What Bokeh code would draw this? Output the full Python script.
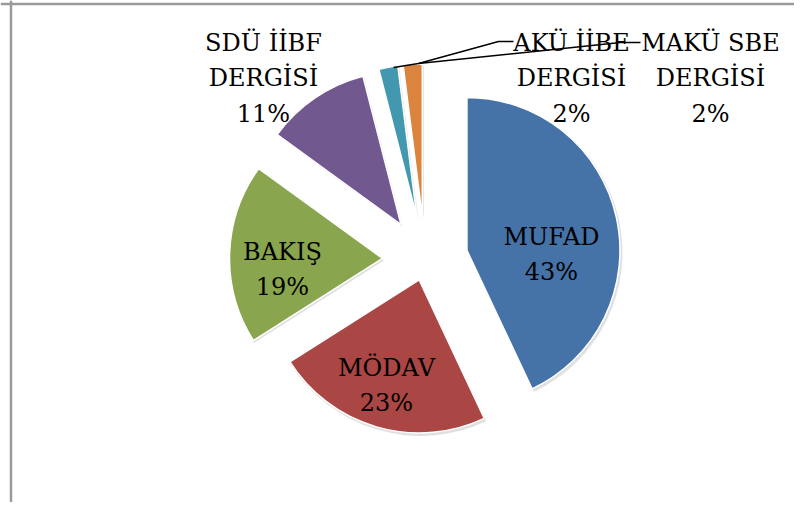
import math
from bokeh.plotting import figure
from bokeh.models import ColumnDataSource, Range1d, Span
from bokeh.core.properties import value
from bokeh.embed import file_html
from bokeh.resources import INLINE

# ---- data ----
categories = ["MUFAD", "MÖDAV", "BAKIŞ", "SDÜ İİBF DERGİSİ", "AKÜ İİBE DERGİSİ", "MAKÜ SBE DERGİSİ"]
percent = [43, 23, 19, 11, 2, 2]
label_line1 = ["MUFAD", "MÖDAV", "BAKIŞ", "SDÜ İİBF", "AKÜ İİBE", "MAKÜ SBE"]
label_line2 = ["", "", "", "DERGİSİ", "DERGİSİ", "DERGİSİ"]

# ---- style / layout ----
colors = ["#4572A7", "#AA4643", "#89A54E", "#71588F", "#4198AF", "#DB843D"]
explode = [43, 21, 42.5, 42.7, 43, 43]          # px offsets of each slice
W, H = 794, 502
center_page = (424.5, 259.3)
radius = 153
# label anchors (pixel coords: center x, first-line baseline y)
label_pos = [(551, 236), (386, 367), (282, 251), (263, 42), (571, 42), (710, 42)]
line_gap = 35.5
leaders = [
    [(393, 67), (418, 63), (498, 41), (513, 41)],
    [(418, 63), (620, 42), (640, 42)],
]

def py(y):
    return H - y

p = figure(width=W, height=H, output_backend="svg", toolbar_location=None,
           x_range=Range1d(0, W), y_range=Range1d(0, H),
           min_border=0, min_border_left=0, min_border_right=0,
           min_border_top=0, min_border_bottom=0)
p.axis.visible = False
p.grid.visible = False
p.outline_line_color = None
p.background_fill_color = "white"

total = float(sum(percent))
cx, cy = center_page[0], py(center_page[1])
xs, ys, starts, ends, sx, sy = [], [], [], [], [], []
cum = 0.0
for v, d in zip(percent, explode):
    t0 = 360.0 * cum / total
    cum += v
    t1 = 360.0 * cum / total
    mid = math.radians((t0 + t1) / 2)
    ax = cx + d * math.sin(mid)
    ay = cy + d * math.cos(mid)
    xs.append(ax); ys.append(ay)
    starts.append(math.radians(90 - t1))
    ends.append(math.radians(90 - t0))
    sx.append(ax + 1.5); sy.append(ay - 2)

src = ColumnDataSource(dict(x=xs, y=ys, sx=sx, sy=sy, start=starts, end=ends,
                            color=colors, name=categories, pct=percent))

# soft shadow
p.wedge(x="sx", y="sy", radius=radius + 1, start_angle="start", end_angle="end",
        direction="anticlock", source=src, fill_color="#000000", fill_alpha=0.12,
        line_color=None)
p.wedge(x="x", y="y", radius=radius, start_angle="start", end_angle="end",
        direction="anticlock", source=src, fill_color="color",
        line_color="white", line_width=1.5)

# labels
tx, ty, tt = [], [], []
for i, (l1, l2, v) in enumerate(zip(label_line1, label_line2, percent)):
    x0, y0 = label_pos[i]
    lines = [l1] + ([l2] if l2 else []) + [f"{v}%"]
    for k, t in enumerate(lines):
        tx.append(x0)
        ty.append(py(y0 + k * line_gap))
        tt.append(t)
p.text(x=tx, y=ty, text=tt, text_font=value("DejaVu Serif"), text_font_size="24px",
       text_align="center", text_baseline="alphabetic", text_color="black")

for pts in leaders:
    p.line([q[0] for q in pts], [py(q[1]) for q in pts], line_color="black", line_width=1.5)

# chart frame (only top and left edges visible in the crop)
p.add_layout(Span(location=10.5, dimension="height", line_color="#9a9a9a", line_width=2.5))
p.add_layout(Span(location=py(3.5), dimension="width", line_color="#9a9a9a", line_width=2.5))

open("out.html", "w").write(file_html(p, INLINE))
